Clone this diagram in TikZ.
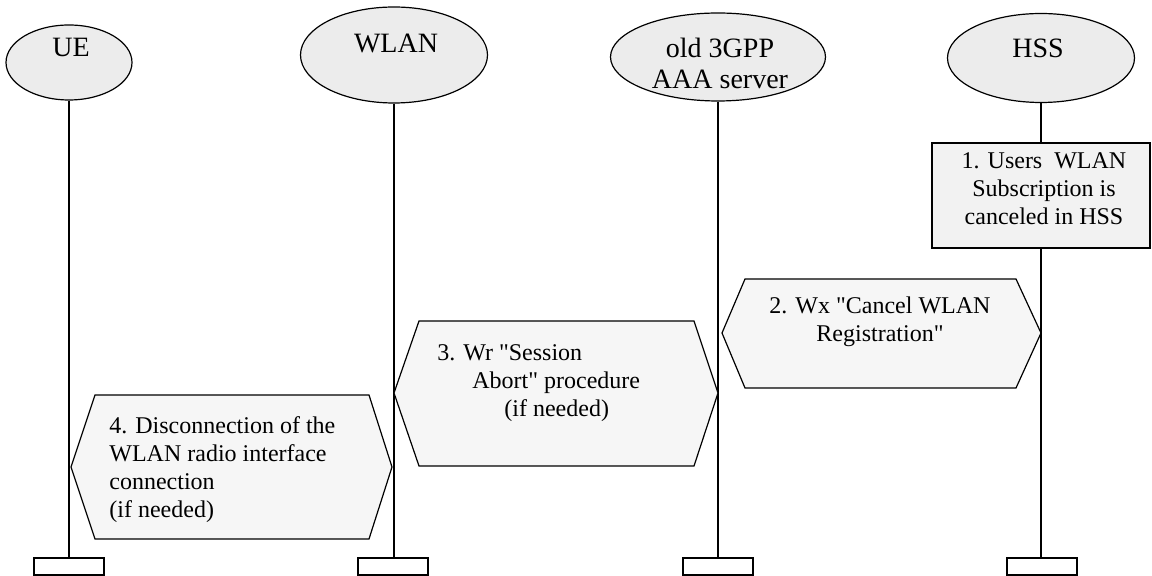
\documentclass[tikz,border=0pt]{standalone}
\usepackage{fontspec}
\setmainfont{Liberation Serif}[Ligatures=TeXOff]
\usetikzlibrary{shapes}
\tikzstyle{actor} = [ellipse, draw, fill=gray!15, line width=0.6pt, inner sep=0pt]
\tikzstyle{actorname} = [font=\fontsize{14}{15.5}\selectfont, align=center, inner sep=0pt]
\tikzstyle{block} = [rectangle, draw, fill=gray!10, line width=0.6pt, inner sep=0pt]
\tikzstyle{lifeend} = [rectangle, draw, fill=white, line width=0.6pt,
    minimum width=35pt, minimum height=8.5pt, inner sep=0pt]
\tikzstyle{msg} = [draw, fill=gray!7, line width=0.6pt, line join=miter]
\tikzstyle{msgtext} = [font=\fontsize{12}{14}\selectfont, inner sep=0pt]
\tikzstyle{line} = [draw, line width=0.6pt]

\begin{document}
\begin{tikzpicture}[x=0.5pt, y=-0.5pt]
    \useasboundingbox (0,0) rectangle (1152,576);
    % Place nodes
    \node [actor, minimum width=63pt, minimum height=37.5pt] (ue) at (69,62.5) {};
    \node [actorname] (uename) at (71,47) {UE};
    \node [actor, minimum width=93.5pt, minimum height=48pt] (wlan) at (394,55) {};
    \node [actorname] (wlanname) at (396,43) {WLAN};
    \node [actor, minimum width=107.5pt, minimum height=44pt] (aaa) at (718,57) {};
    \node [actorname] (aaaname) at (720,63) {old 3GPP\\AAA server};
    \node [actor, minimum width=93.5pt, minimum height=44.5pt] (hss) at (1041,58) {};
    \node [actorname] (hssname) at (1038,48) {HSS};

    \node [lifeend] (ueend) at (69,566.5) {};
    \node [lifeend] (wlanend) at (393,566.5) {};
    \node [lifeend] (aaaend) at (718,566.5) {};
    \node [lifeend] (hssend) at (1042,566.5) {};

    \node [block, minimum width=109pt, minimum height=52.5pt] (cancel) at (1041,195.5) {};

    % Lifelines
    \path [line] (ue.south) -- (ue.south |- ueend.north);
    \path [line] (wlan.south) -- (wlan.south |- wlanend.north);
    \path [line] (aaa.south) -- (aaa.south |- aaaend.north);
    \path [line] (hss.south) -- (hss.south |- cancel.north);
    \path [line] (hss.south |- cancel.south) -- (hss.south |- hssend.north);

    % Messages
    \path [msg] (722,333) -- (745,279) -- (1016,279) -- (1041,333)
        -- (1016,388) -- (745,388) -- cycle;
    \path [msg] (394,393) -- (419,321) -- (694,321) -- (718,393)
        -- (694,466) -- (419,466) -- cycle;
    \path [msg] (71,467) -- (95,395) -- (369,395) -- (392,467)
        -- (369,539) -- (95,539) -- cycle;

    \node [msgtext, align=center] (canceltext) at (1044,189)
        {1. Users~~WLAN\\Subscription is\\canceled in HSS};
    \node [msgtext, align=center] (wxtext) at (880,322)
        {2. Wx "Cancel WLAN\\Registration"};
    \node [msgtext, align=left, anchor=west] (wrtext) at (437,383)
        {3. Wr "Session\\\hspace*{17.5pt}Abort" procedure\\\hspace*{33.5pt}(if needed)};
    \node [msgtext, align=left, anchor=west] (disctext) at (109,470)
        {4. Disconnection of the\\WLAN radio interface\\connection\\(if needed)};
\end{tikzpicture}
\end{document}
